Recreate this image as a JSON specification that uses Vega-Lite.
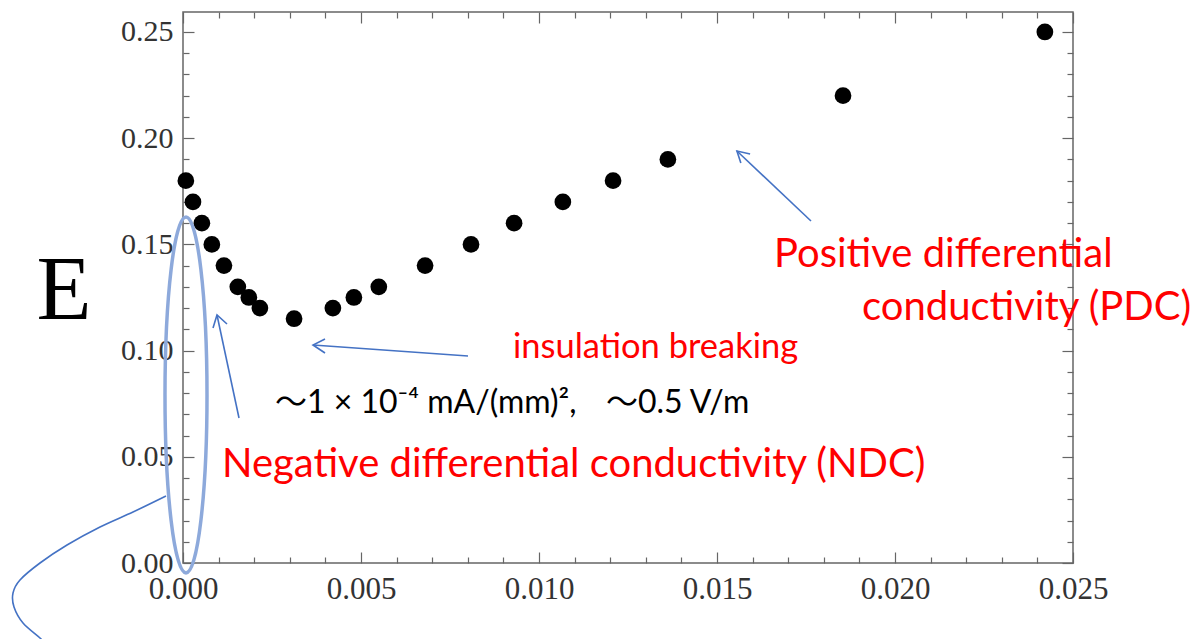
{
  "$schema": "https://vega.github.io/schema/vega-lite/v6.json",
  "width": 890,
  "height": 551,
  "autosize": {"type": "none"},
  "padding": {"left": 183, "top": 12, "right": 124, "bottom": 76},
  "background": "white",
  "config": {
    "view": {"stroke": "#666666", "strokeWidth": 1.5},
    "axis": {"grid": false, "domain": false}
  },
  "datasets": {
    "points": [
      {"x": 0.00008, "y": 0.18}, {"x": 0.00028, "y": 0.17}, {"x": 0.00053, "y": 0.16},
      {"x": 0.00081, "y": 0.15}, {"x": 0.00115, "y": 0.14}, {"x": 0.00154, "y": 0.13},
      {"x": 0.00185, "y": 0.125}, {"x": 0.00216, "y": 0.12}, {"x": 0.00312, "y": 0.115},
      {"x": 0.00421, "y": 0.12}, {"x": 0.0048, "y": 0.125}, {"x": 0.0055, "y": 0.13},
      {"x": 0.0068, "y": 0.14}, {"x": 0.00809, "y": 0.15}, {"x": 0.0093, "y": 0.16},
      {"x": 0.01067, "y": 0.17}, {"x": 0.01208, "y": 0.18}, {"x": 0.01362, "y": 0.19},
      {"x": 0.01854, "y": 0.22}, {"x": 0.02421, "y": 0.25}
    ],
    "ellipse": [{"x": 0.0000843, "y": 0.0791}],
    "arrows": [
      {"seg": "a1s", "i": 0, "x": 0.01764, "y": 0.16102}, {"seg": "a1s", "i": 1, "x": 0.01556, "y": 0.19397},
      {"seg": "a1h", "i": 0, "x": 0.01593, "y": 0.19256}, {"seg": "a1h", "i": 1, "x": 0.01556, "y": 0.19397}, {"seg": "a1h", "i": 2, "x": 0.01567, "y": 0.18832},
      {"seg": "a2s", "i": 0, "x": 0.008006, "y": 0.09746}, {"seg": "a2s", "i": 1, "x": 0.003652, "y": 0.10264},
      {"seg": "a2h", "i": 0, "x": 0.003989, "y": 0.10546}, {"seg": "a2h", "i": 1, "x": 0.003652, "y": 0.10264}, {"seg": "a2h", "i": 2, "x": 0.003989, "y": 0.09887},
      {"seg": "a3s", "i": 0, "x": 0.001573, "y": 0.06827}, {"seg": "a3s", "i": 1, "x": 0.000955, "y": 0.11676},
      {"seg": "a3h", "i": 0, "x": 0.000843, "y": 0.11064}, {"seg": "a3h", "i": 1, "x": 0.000955, "y": 0.11676}, {"seg": "a3h", "i": 2, "x": 0.001236, "y": 0.11252}
    ],
    "curve": [
      {"i": 0, "x": -0.000478, "y": 0.03154}, {"i": 1, "x": -0.001404, "y": 0.02401},
      {"i": 2, "x": -0.002331, "y": 0.01695}, {"i": 3, "x": -0.003258, "y": 0.00847},
      {"i": 4, "x": -0.004017, "y": 0.0}, {"i": 5, "x": -0.004579, "y": -0.008},
      {"i": 6, "x": -0.004775, "y": -0.01412}, {"i": 7, "x": -0.004747, "y": -0.02072},
      {"i": 8, "x": -0.004494, "y": -0.02825}, {"i": 9, "x": -0.004017, "y": -0.03531},
      {"i": 10, "x": -0.003792, "y": -0.03908}
    ],
    "bigred": [
      {"x": 0.016601, "y": 0.13936, "t": "Positive differential"},
      {"x": 0.019073, "y": 0.11441, "t": "conductivity (PDC)"},
      {"x": 0.0010955, "y": 0.04049, "t": "Negative differential conductivity (NDC)"}
    ],
    "midred": [{"x": 0.0092697, "y": 0.0965, "t": "insulation breaking"}],
    "black": [
      {"x": 0.002584, "y": 0.0706, "t": "～1 × 10⁻⁴ mA/(mm)²,"},
      {"x": 0.011882, "y": 0.0706, "t": "～0.5 V/m"}
    ]
  },
  "layer": [
    {
      "data": {"name": "points"},
      "mark": {"type": "circle", "size": 280, "color": "black", "opacity": 1},
      "encoding": {
        "x": {
          "field": "x", "type": "quantitative",
          "scale": {"domain": [0, 0.025], "nice": false, "zero": false},
          "axis": {
            "orient": "bottom", "title": null,
            "values": [0, 0.001, 0.002, 0.003, 0.004, 0.005, 0.006, 0.007, 0.008, 0.009, 0.01, 0.011, 0.012, 0.013, 0.014, 0.015, 0.016, 0.017, 0.018, 0.019, 0.02, 0.021, 0.022, 0.023, 0.024, 0.025],
            "tickSize": {"condition": {"test": "abs(datum.value*200 - round(datum.value*200)) < 0.01", "value": -11}, "value": -6},
            "tickColor": "#666666", "tickWidth": 1.2,
            "labelExpr": "abs(datum.value*200 - round(datum.value*200)) < 0.01 ? format(datum.value, '.3f') : ''",
            "labelFont": "Liberation Serif", "labelFontSize": 31, "labelColor": "#333333",
            "labelPadding": 22, "labelOverlap": false, "labelFlush": false, "labelBaseline": "top"
          }
        },
        "y": {
          "field": "y", "type": "quantitative",
          "scale": {"domain": [0, 0.2594], "nice": false, "zero": false},
          "axis": {
            "orient": "left",
            "values": [0, 0.01, 0.02, 0.03, 0.04, 0.05, 0.06, 0.07, 0.08, 0.09, 0.1, 0.11, 0.12, 0.13, 0.14, 0.15, 0.16, 0.17, 0.18, 0.19, 0.2, 0.21, 0.22, 0.23, 0.24, 0.25],
            "tickSize": {"condition": {"test": "abs(datum.value*20 - round(datum.value*20)) < 0.01", "value": -11}, "value": -6},
            "tickColor": "#666666", "tickWidth": 1.2,
            "labelExpr": "abs(datum.value*20 - round(datum.value*20)) < 0.01 ? format(datum.value, '.2f') : ''",
            "labelFont": "Liberation Serif", "labelFontSize": 30, "labelColor": "#333333",
            "labelPadding": 21, "labelOverlap": false, "labelFlush": false,
            "title": "E", "titleFont": "Liberation Serif", "titleFontSize": 90, "titleFontWeight": "normal",
            "titleColor": "black", "titleAngle": 0, "titleX": -119.5, "titleY": 306,
            "titleAlign": "center", "titleBaseline": "alphabetic"
          }
        }
      }
    },
    {
      "data": {"name": "ellipse"},
      "mark": {"type": "point", "shape": "M 0 -1 A 0.118 1 0 1 1 0 1 A 0.118 1 0 1 1 0 -1 Z", "size": 126736, "filled": false, "stroke": "#8DA9DB", "strokeWidth": 3.5, "opacity": 1},
      "encoding": {
        "x": {
          "field": "x", "type": "quantitative",
          "axis": {
            "orient": "top", "title": null, "labels": false,
            "values": [0, 0.001, 0.002, 0.003, 0.004, 0.005, 0.006, 0.007, 0.008, 0.009, 0.01, 0.011, 0.012, 0.013, 0.014, 0.015, 0.016, 0.017, 0.018, 0.019, 0.02, 0.021, 0.022, 0.023, 0.024, 0.025],
            "tickSize": {"condition": {"test": "abs(datum.value*200 - round(datum.value*200)) < 0.01", "value": -11}, "value": -6},
            "tickColor": "#666666", "tickWidth": 1.2
          }
        },
        "y": {
          "field": "y", "type": "quantitative",
          "axis": {
            "orient": "right", "title": null, "labels": false,
            "values": [0, 0.01, 0.02, 0.03, 0.04, 0.05, 0.06, 0.07, 0.08, 0.09, 0.1, 0.11, 0.12, 0.13, 0.14, 0.15, 0.16, 0.17, 0.18, 0.19, 0.2, 0.21, 0.22, 0.23, 0.24, 0.25],
            "tickSize": {"condition": {"test": "abs(datum.value*20 - round(datum.value*20)) < 0.01", "value": -11}, "value": -6},
            "tickColor": "#666666", "tickWidth": 1.2
          }
        }
      }
    },
    {
      "data": {"name": "arrows"},
      "mark": {"type": "line", "color": "#4472C4", "strokeWidth": 1.6},
      "encoding": {
        "x": {"field": "x", "type": "quantitative", "axis": null},
        "y": {"field": "y", "type": "quantitative", "axis": null},
        "detail": {"field": "seg"},
        "order": {"field": "i"}
      }
    },
    {
      "data": {"name": "curve"},
      "mark": {"type": "line", "color": "#4472C4", "strokeWidth": 1.6, "interpolate": "cardinal"},
      "encoding": {
        "x": {"field": "x", "type": "quantitative", "axis": null},
        "y": {"field": "y", "type": "quantitative", "axis": null},
        "order": {"field": "i"}
      }
    },
    {
      "data": {"name": "bigred"},
      "mark": {"type": "text", "font": "Lato", "fontSize": 40, "color": "#FF0000", "align": "left", "baseline": "alphabetic"},
      "encoding": {
        "x": {"field": "x", "type": "quantitative", "axis": null},
        "y": {"field": "y", "type": "quantitative", "axis": null},
        "text": {"field": "t"}
      }
    },
    {
      "data": {"name": "midred"},
      "mark": {"type": "text", "font": "Lato", "fontSize": 34.5, "color": "#FF0000", "align": "left", "baseline": "alphabetic"},
      "encoding": {
        "x": {"field": "x", "type": "quantitative", "axis": null},
        "y": {"field": "y", "type": "quantitative", "axis": null},
        "text": {"field": "t"}
      }
    },
    {
      "data": {"name": "black"},
      "mark": {"type": "text", "font": "Lato, Noto Sans CJK JP", "fontSize": 32, "color": "black", "align": "left", "baseline": "alphabetic"},
      "encoding": {
        "x": {"field": "x", "type": "quantitative", "axis": null},
        "y": {"field": "y", "type": "quantitative", "axis": null},
        "text": {"field": "t"}
      }
    }
  ],
  "resolve": {"axis": {"x": "independent", "y": "independent"}}
}
